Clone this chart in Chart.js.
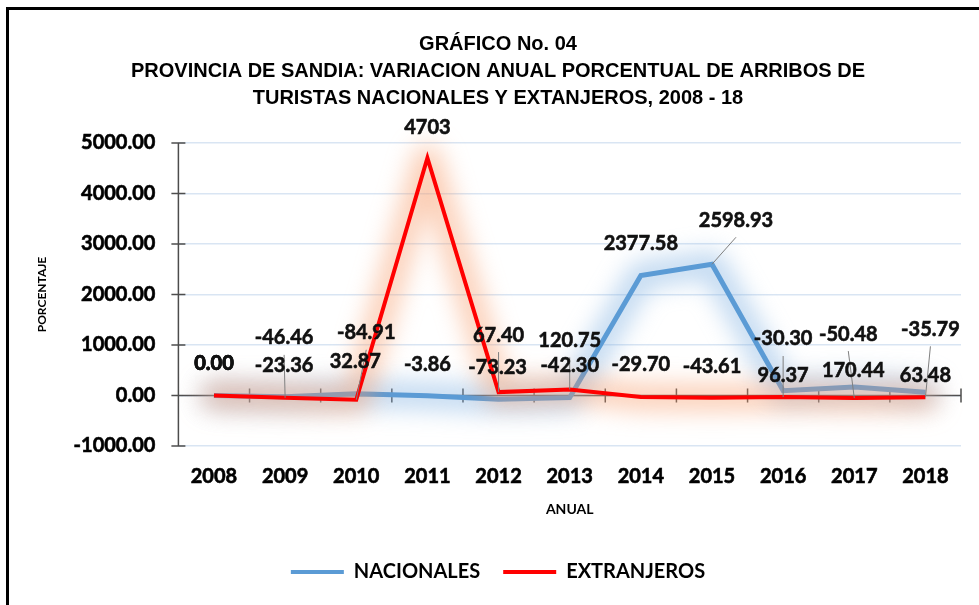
<!DOCTYPE html>
<html lang="es">
<head>
<meta charset="utf-8">
<title>Gráfico No. 04</title>
<script src="https://cdn.jsdelivr.net/npm/chart.js@4.4.1/dist/chart.umd.min.js"></script>
<style>
  html, body { margin: 0; padding: 0; background: #fff; overflow: hidden; }
  #marco {
    position: absolute; left: 6px; top: 7px;
    width: 970px; height: 595px;
    border-top: 3px solid #000; border-left: 3px solid #000;
  }
  #grafico { position: absolute; left: 0; top: 0; }
</style>
</head>
<body>
<div id="marco"></div>
<canvas id="grafico" width="979" height="605"></canvas>
<script>
// Años y variaciones porcentuales
const anios = ["2008", "2009", "2010", "2011", "2012", "2013", "2014", "2015", "2016", "2017", "2018"];
const nacionales = [0.00, -23.36, 32.87, -3.86, -73.23, -42.30, 2377.58, 2598.93, 96.37, 170.44, 63.48];
const extranjeros = [0.00, -46.46, -84.91, 4703, 67.40, 120.75, -29.70, -43.61, -30.30, -50.48, -35.79];
// decimales de cada etiqueta
const decNacionales = [2, 2, 2, 2, 2, 2, 2, 2, 2, 2, 2];
const decExtranjeros = [2, 2, 2, 0, 2, 2, 2, 2, 2, 2, 2];
const ticksY = [-1000, 0, 1000, 2000, 3000, 4000, 5000];

// Desplazamiento de etiquetas (px) respecto al punto y si llevan línea guía
const despNac = [[0, -32], [-1, -31], [-1, -32], [0, -31], [-1, -32], [0, -32], [0, -32], [24, -44], [0, -15], [-1, -16], [0, -17]];
const guiaNac = [false, false, false, false, false, false, false, true, false, false, false];
const despExt = [[0, -32], [-1, -60], [10, -67], [0, -30], [0, -57], [0, -49], [0, -32], [0, -31], [0, -58], [-6, -64], [5, -68]];
const guiaExt = [false, true, true, false, true, true, false, false, true, true, true];

const AZUL = "#5B9BD5";
const ROJO = "#FF0000";
const BRILLO = ["rgba(125,175,225,0.5)", "rgba(248,155,105,0.5)"];
const FUENTE = "Lato, 'Open Sans', sans-serif";

// Resplandor difuso bajo cada línea, siguiendo sus puntos
const brillo = {
  id: "brillo",
  beforeDatasetDraw(chart, args) {
    const ctx = chart.ctx;
    const pts = args.meta.data;
    ctx.save();
    ctx.filter = "blur(12px)";
    ctx.strokeStyle = BRILLO[args.index];
    ctx.lineWidth = 26;
    ctx.lineJoin = "round";
    ctx.lineCap = "round";
    ctx.beginPath();
    pts.forEach((p, j) => (j ? ctx.lineTo(p.x, p.y) : ctx.moveTo(p.x, p.y)));
    ctx.stroke();
    ctx.restore();
  }
};

// Ejes con marcas cruzadas; el eje X pasa por el valor 0
const ejes = {
  id: "ejes",
  beforeDatasetsDraw(chart) {
    const { ctx, chartArea, scales } = chart;
    const x = scales.x, y = scales.y;
    const y0 = y.getPixelForValue(0);
    ctx.save();
    ctx.strokeStyle = "#4d4d4d";
    ctx.lineWidth = 1.5;
    ctx.beginPath();
    ctx.moveTo(chartArea.left, chartArea.top);
    ctx.lineTo(chartArea.left, chartArea.bottom);
    y.ticks.forEach((t) => {
      const py = y.getPixelForValue(t.value);
      ctx.moveTo(chartArea.left - 7, py);
      ctx.lineTo(chartArea.left + 7, py);
    });
    ctx.moveTo(chartArea.left, y0);
    ctx.lineTo(chartArea.right, y0);
    for (let i = 0; i <= anios.length; i++) {
      const px = x.getPixelForValue(i - 0.5);
      ctx.moveTo(px, y0 - 7);
      ctx.lineTo(px, y0 + 7);
    }
    ctx.stroke();
    ctx.restore();
  }
};

// Etiquetas de datos con líneas guía
const etiquetas = {
  id: "etiquetas",
  afterDatasetsDraw(chart) {
    const ctx = chart.ctx;
    const series = [
      { valores: nacionales, dec: decNacionales, desp: despNac, guia: guiaNac },
      { valores: extranjeros, dec: decExtranjeros, desp: despExt, guia: guiaExt }
    ];
    ctx.save();
    series.forEach((s, i) => {
      const meta = chart.getDatasetMeta(i);
      meta.data.forEach((p, j) => {
        const lx = p.x + s.desp[j][0];
        const ly = p.y + s.desp[j][1];
        if (s.guia[j]) {
          ctx.strokeStyle = "#7f7f7f";
          ctx.lineWidth = 1;
          ctx.beginPath();
          ctx.moveTo(p.x, p.y);
          ctx.lineTo(lx, ly + 17);
          ctx.stroke();
        }
      });
    });
    ctx.font = "bold 20px " + FUENTE;
    ctx.fillStyle = "#111";
    ctx.strokeStyle = "#111";
    ctx.lineWidth = 0.6;
    ctx.textAlign = "center";
    ctx.textBaseline = "middle";
    series.forEach((s, i) => {
      const meta = chart.getDatasetMeta(i);
      meta.data.forEach((p, j) => {
        const txt = s.valores[j].toFixed(s.dec[j]);
        const lx = p.x + s.desp[j][0];
        const ly = p.y + s.desp[j][1];
        ctx.fillText(txt, lx, ly);
        ctx.strokeText(txt, lx, ly);
      });
    });
    ctx.restore();
  }
};

const ctx = document.getElementById("grafico").getContext("2d");
new Chart(ctx, {
  type: "line",
  data: {
    labels: anios,
    datasets: [
      {
        label: "NACIONALES",
        data: nacionales,
        borderColor: AZUL,
        backgroundColor: AZUL,
        borderWidth: 5,
        pointRadius: 0,
        tension: 0,
        fill: false,
        clip: false,
        order: 1
      },
      {
        label: "EXTRANJEROS",
        data: extranjeros,
        borderColor: ROJO,
        backgroundColor: ROJO,
        borderWidth: 4,
        pointRadius: 0,
        tension: 0,
        fill: false,
        clip: false,
        order: 0
      }
    ]
  },
  options: {
    responsive: false,
    animation: false,
    devicePixelRatio: 1,
    layout: { padding: { left: 35, right: 18, top: 0, bottom: 13 } },
    plugins: {
      title: {
        display: true,
        text: [
          "GRÁFICO No. 04",
          "PROVINCIA DE SANDIA: VARIACION ANUAL PORCENTUAL DE ARRIBOS DE",
          "TURISTAS NACIONALES Y EXTANJEROS, 2008 - 18"
        ],
        color: "#000",
        font: { family: "'Liberation Sans Narrow', 'Arial Narrow', 'Liberation Sans', sans-serif", size: 20, weight: "bold", lineHeight: 1.35 },
        padding: { top: 31, bottom: 31 }
      },
      legend: {
        position: "bottom",
        labels: {
          color: "#000",
          font: { family: FUENTE, size: 20, weight: "bold" },
          boxWidth: 53,
          boxHeight: 4,
          padding: 23,
          sort: (a, b) => a.datasetIndex - b.datasetIndex,
          generateLabels(chart) {
            const items = Chart.defaults.plugins.legend.labels.generateLabels(chart);
            items.forEach((it) => { it.lineWidth = 0; });
            return items;
          }
        }
      },
      tooltip: { enabled: false }
    },
    scales: {
      x: {
        offset: true,
        grid: { display: false, drawTicks: false, offset: true },
        border: { display: false },
        ticks: {
          color: "#000",
          font: { family: FUENTE, size: 20, weight: "bold" },
          textStrokeColor: "#000",
          textStrokeWidth: 0.6,
          padding: 19
        },
        title: {
          display: true,
          text: "ANUAL",
          color: "#000",
          font: { family: FUENTE, size: 14, weight: "bold" },
          padding: { top: 0, bottom: 21 }
        },
        afterFit(scale) { scale.height = 93; }
      },
      y: {
        min: -1000,
        max: 5000,
        afterBuildTicks(scale) { scale.ticks = ticksY.map((v) => ({ value: v })); },
        grid: { color: "#d9e5f3", lineWidth: 1.5, drawTicks: false },
        border: { display: false },
        ticks: {
          color: "#000",
          font: { family: FUENTE, size: 20, weight: "bold" },
          textStrokeColor: "#000",
          textStrokeWidth: 0.6,
          padding: 23,
          callback: (v) => Number(v).toFixed(2)
        },
        title: {
          display: true,
          text: "PORCENTAJE",
          color: "#000",
          font: { family: FUENTE, size: 12, weight: "bold" },
          padding: { top: 0, bottom: 0 }
        },
        afterFit(scale) { scale.width = 143.4; }
      }
    }
  },
  plugins: [brillo, ejes, etiquetas]
});
</script>
</body>
</html>
